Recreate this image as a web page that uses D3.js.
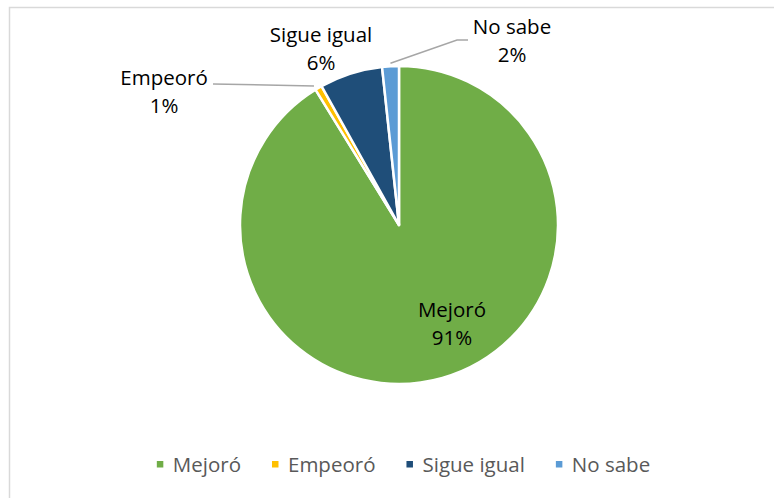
<!DOCTYPE html>
<html>
<head>
<meta charset="utf-8">
<script src="https://cdn.jsdelivr.net/npm/d3@7/dist/d3.min.js"></script>
<style>
  html, body { margin: 0; padding: 0; background: #fff; }
  svg { display: block; font-family: "Open Sans", sans-serif; }
</style>
</head>
<body>
<div id="chart"></div>
<script>
// categories and shares (percent), clockwise from 12 o'clock
const categories = ["Mejoró", "Empeoró", "Sigue igual", "No sabe"];
const shares = [91.2, 0.7, 6.4, 1.7];
const colors = ["#70AD47", "#FFC000", "#1F4E79", "#5B9BD5"];

// label placement relative to pie centre (layout only)
const labelLayout = {
  "Mejoró": { x: 53, y: 92 },
  "Empeoró": { x: -235, y: -140, leader: "straight" },
  "Sigue igual": { x: -78, y: -183 },
  "No sabe": { x: 113, y: -191, leader: "elbow" }
};

const width = 774;
const height = 498;
const cx = 399;
const cy = 225;
const radius = 159;
const fontSize = 20.5;
const lineGap = 28.3;

const svg = d3.select("#chart")
  .append("svg")
  .attr("width", width)
  .attr("height", height);

// chart frame (runs off the right and bottom edges)
svg.append("rect")
  .attr("x", 9.5)
  .attr("y", 7.5)
  .attr("width", width + 20)
  .attr("height", height + 20)
  .attr("fill", "#fff")
  .attr("stroke", "#D9D9D9")
  .attr("stroke-width", 1.5);

const data = categories.map((name, i) => ({ name, value: shares[i], color: colors[i] }));
const total = d3.sum(shares);

const pie = d3.pie().sort(null).value((d) => d.value);
const arc = d3.arc().innerRadius(0).outerRadius(radius);
const arcs = pie(data);

const g = svg.append("g").attr("transform", `translate(${cx},${cy})`);

g.selectAll("path")
  .data(arcs)
  .enter()
  .append("path")
  .attr("d", arc)
  .attr("fill", (d) => d.data.color)
  .attr("stroke", "#fff")
  .attr("stroke-width", 2.5)
  .attr("stroke-linejoin", "round");

// leader lines from the slice edge to its label
arcs.forEach((d) => {
  const lay = labelLayout[d.data.name];
  if (!lay.leader) {
    return;
  }
  const mid = (d.startAngle + d.endAngle) / 2;
  const px = Math.sin(mid) * (radius + 1);
  const py = -Math.cos(mid) * (radius + 1);
  let pts;
  if (lay.leader === "straight") {
    pts = [[px - 4, py - 1], [lay.x + 49, lay.y - 1]];
  } else {
    pts = [[px, py - 2], [lay.x - 55, lay.y + 6], [lay.x - 44, lay.y + 6]];
  }
  g.append("path")
    .attr("d", d3.line()(pts))
    .attr("fill", "none")
    .attr("stroke", "#A6A6A6")
    .attr("stroke-width", 1.5);
});

// data labels
arcs.forEach((d) => {
  const lay = labelLayout[d.data.name];
  const t = g.append("text")
    .attr("text-anchor", "middle")
    .attr("font-size", fontSize)
    .attr("fill", "#000");
  t.append("tspan").attr("x", lay.x).attr("y", lay.y).text(d.data.name);
  t.append("tspan")
    .attr("x", lay.x)
    .attr("y", lay.y + lineGap)
    .text(`${Math.round((d.data.value / total) * 100)}%`);
});

// legend, centred under the pie
const legend = svg.append("g");
const items = legend.selectAll("g")
  .data(data)
  .enter()
  .append("g");
items.append("rect")
  .attr("width", 6.5)
  .attr("height", 6.5)
  .attr("y", 461)
  .attr("fill", (d) => d.color);
items.append("text")
  .attr("x", 16)
  .attr("y", 472)
  .attr("font-size", fontSize)
  .attr("fill", "#595959")
  .text((d) => d.name);

const itemGap = 31;
let offset = 0;
const positions = [];
items.each(function () {
  const w = d3.select(this).select("text").node().getComputedTextLength();
  positions.push(offset);
  offset += 16 + w + itemGap;
});
const legendWidth = offset - itemGap;
const legendStart = 403.5 - legendWidth / 2;
items.attr("transform", (d, i) => `translate(${legendStart + positions[i]},0)`);
</script>
</body>
</html>
